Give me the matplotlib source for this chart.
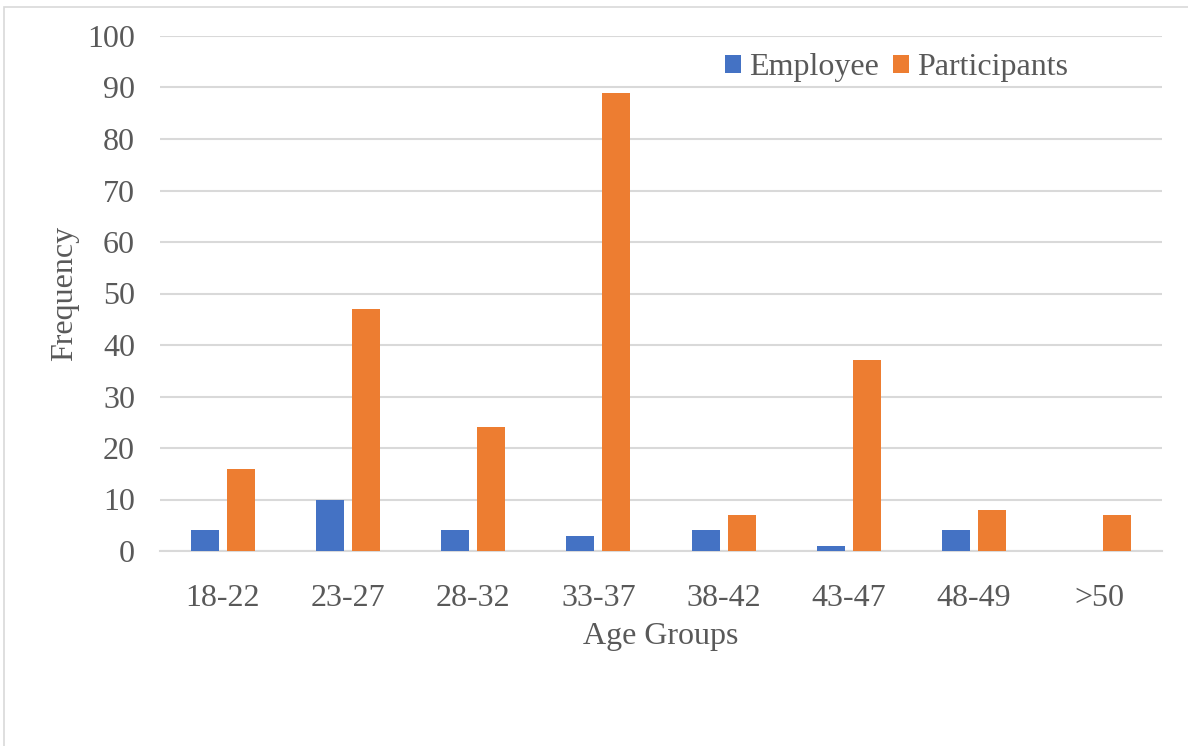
import matplotlib.pyplot as plt
import matplotlib.patches as mpatches
import numpy as np

age_groups = ['18-22', '23-27', '28-32', '33-37', '38-42', '43-47', '48-49', '>50']
employee = [4, 10, 4, 3, 4, 1, 4, 0]
participants = [16, 47, 24, 89, 7, 37, 8, 7]

plt.rcParams['font.family'] = ['Liberation Serif', 'DejaVu Serif']
text_col = '#595959'
fs = 23

fig = plt.figure(figsize=(11.88, 7.46), dpi=100)
ax = fig.add_axes([160 / 1188, 1 - 551 / 746, 1002 / 1188, 515 / 746])

# outer chart frame (cut off at right and bottom)
fig.patches.append(mpatches.Rectangle((4 / 1188, -0.1), 1.2, 1 - 7 / 746 + 0.1,
                                      transform=fig.transFigure, fill=False,
                                      edgecolor='#d9d9d9', linewidth=1.2))

x = np.arange(len(age_groups))
w = 0.224
ax.bar(x - 0.144, employee, w, color='#4472C4', label='Employee', zorder=3)
ax.bar(x + 0.144, participants, w, color='#ED7D31', label='Participants', zorder=3)

ax.set_xlim(-0.5, len(age_groups) - 0.5)
ax.set_ylim(0, 100)
ax.set_yticks(range(0, 101, 10))
ax.set_xticks(x)
ax.set_xticklabels(age_groups)
ax.yaxis.grid(True, color='#d9d9d9', linewidth=1.5, zorder=0)
ax.tick_params(length=0, labelsize=fs, labelcolor=text_col)
ax.tick_params(axis='x', pad=24)
ax.tick_params(axis='y', pad=18)
for s in ['top', 'right', 'left']:
    ax.spines[s].set_visible(False)
ax.spines['bottom'].set_color('#d9d9d9')
ax.spines['bottom'].set_linewidth(1.5)

ax.set_xlabel('Age Groups', fontsize=fs, color=text_col, labelpad=6)
ax.set_ylabel('Frequency', fontsize=fs, color=text_col, labelpad=6)

ax.legend(loc='upper left', bbox_to_anchor=(0.535, 1.022), ncol=2, frameon=False,
          fontsize=fs, labelcolor=text_col, handlelength=0.5, handleheight=0.5,
          handletextpad=0.25, columnspacing=0.45)

fig.savefig('out.png', dpi=100)
